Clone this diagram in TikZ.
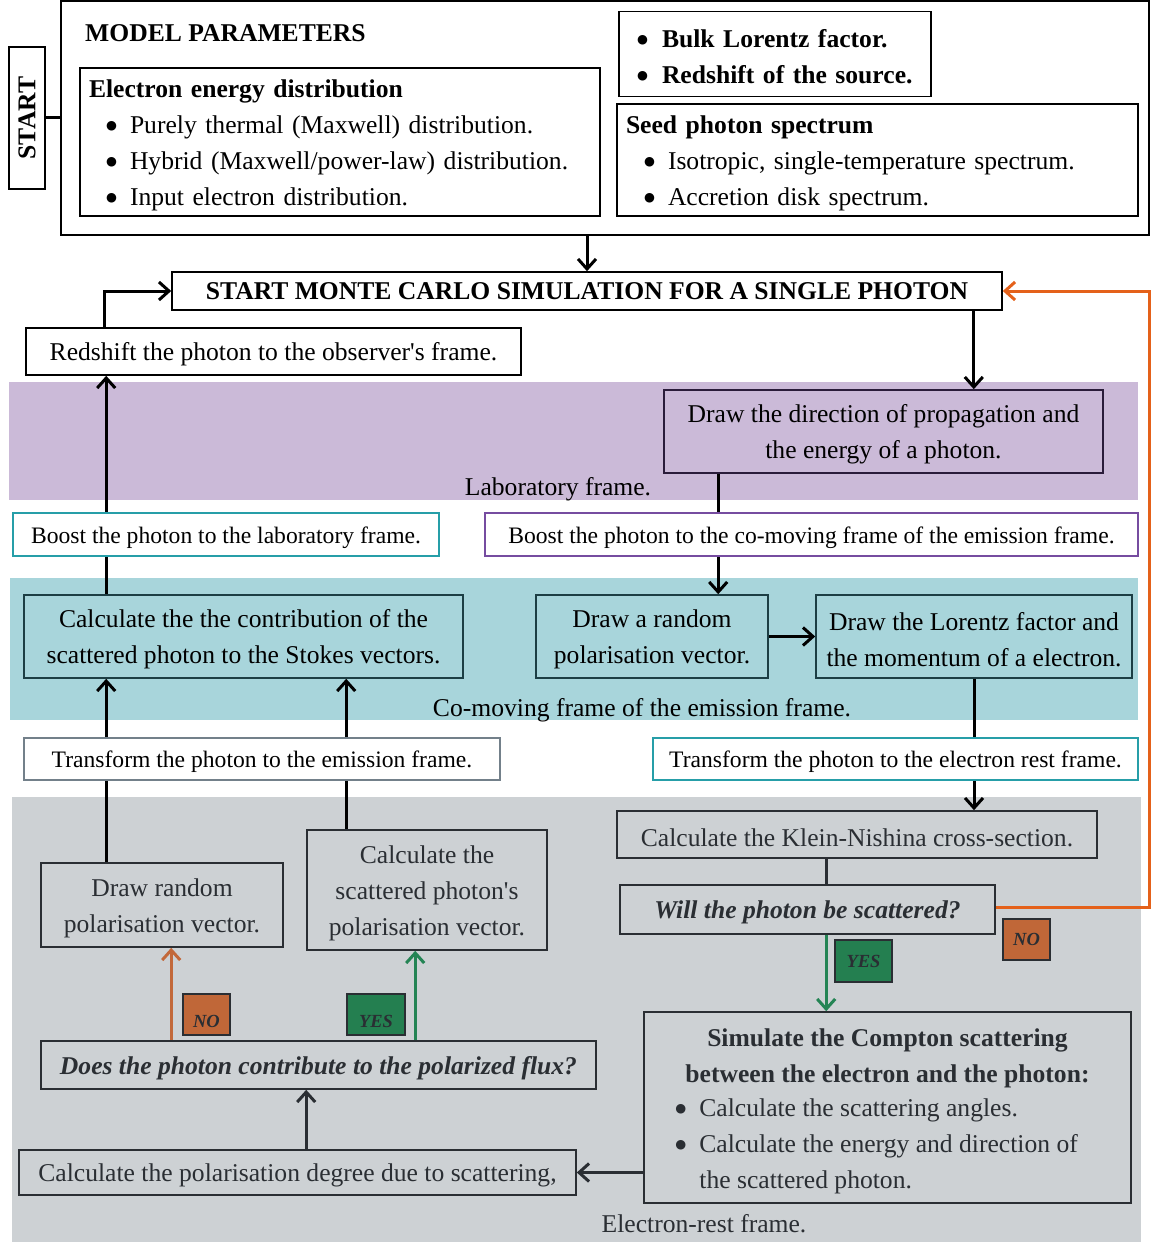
\documentclass[tikz,border=0pt]{standalone}
\usepackage{fontspec}
\setmainfont{Liberation Serif}
\newfontfamily\qf{Liberation Serif}
\newfontfamily\symf{DejaVu Sans}
\usetikzlibrary{arrows.meta,calc}
\pgfdeclarelayer{bg}
\pgfdeclarelayer{lines}
\pgfsetlayers{bg,lines,main}
\definecolor{purpband}{RGB}{203,186,216}
\definecolor{tealband}{RGB}{168,213,219}
\definecolor{grayband}{RGB}{205,209,212}
\definecolor{purpdark}{RGB}{42,28,58}
\definecolor{tealdark}{RGB}{28,62,68}
\definecolor{graydark}{RGB}{42,46,51}
\definecolor{tealline}{RGB}{38,158,168}
\definecolor{purpline}{RGB}{118,76,160}
\definecolor{grayline}{RGB}{115,128,138}
\definecolor{loopor}{RGB}{228,97,26}
\definecolor{noor}{RGB}{194,104,58}
\definecolor{yesgr}{RGB}{36,132,84}
\definecolor{nofill}{RGB}{192,103,56}
\definecolor{yesfill}{RGB}{36,127,80}
\newcommand\fm{\fontsize{25.6}{36}\selectfont}
\newcommand\fsm{\fontsize{23.6}{30}\selectfont}
\newcommand\ftag{\fontsize{18.5}{20}\selectfont\bfseries\itshape}
\newcommand\dn{\rule{0pt}{0.94em}}
\newcommand\bdot{\raisebox{4pt}{\symf\fontsize{12.5}{12.5}\selectfont ●}}
\newcommand\bitem[2]{\hspace*{#1}\makebox[#2][l]{\bdot}}
\newcommand\apos{{\qf'}}
\begin{document}
\begin{tikzpicture}[x=1pt,y=-1pt,
  plainbox/.style={draw=black, line width=1.6pt, fill=white, inner sep=0pt, font=\fm, align=center},
  box/.style={plainbox, execute at begin node=\dn},
  listbox/.style={draw=black, line width=1.6pt, fill=white, inner xsep=9pt, inner ysep=0pt, font=\fm, align=left, execute at begin node=\dn},
  pbox/.style={box, draw=purpdark, fill=purpband},
  tbox/.style={box, draw=tealdark, fill=tealband},
  gbox/.style={box, draw=graydark, fill=grayband, text=graydark},
  qbox/.style={gbox, font=\fm\bfseries\itshape},
  tagbox/.style={draw=graydark, line width=1.6pt, inner sep=0pt, font=\ftag, text=graydark},
  lbl/.style={inner sep=0pt, font=\fm, execute at begin node=\dn},
  conn/.style={line width=3pt, -{Straight Barb[length=10pt,width=18pt]}},
  plain/.style={line width=3pt}
]
\useasboundingbox (0,0) rectangle (1151,1244);

% ---- bands
\begin{pgfonlayer}{bg}
  \fill[purpband] (9,382) rectangle (1138,500);
  \fill[tealband] (10,578) rectangle (1138,720);
  \fill[grayband] (12,797) rectangle (1141,1242);
\end{pgfonlayer}

% ---- model parameters
\node[plainbox, minimum width=1088, minimum height=234] (outer) at (605,118) {};
\node[anchor=west, inner sep=0pt, font=\fm\bfseries] (mp) at (85,33) {MODEL PARAMETERS};
\node[plainbox, rotate=90, minimum width=142, minimum height=36, font=\fm\bfseries] (startb) at (27,118) {START};
\node[listbox, minimum width=520, minimum height=148, text width=502] (elec) at (340,142)
  {\textbf{Electron energy distribution}\\
   \bitem{17pt}{24pt}Purely thermal (Maxwell) distribution.\\
   \bitem{17pt}{24pt}Hybrid (Maxwell/power-law) distribution.\\
   \bitem{17pt}{24pt}Input electron distribution.};
\node[listbox, execute at begin node={}, inner xsep=8pt, minimum width=312, minimum height=85, text width=296, font=\fm\bfseries] (bulk) at (775,54)
  {\bitem{10pt}{25pt}Bulk Lorentz factor.\\
   \bitem{10pt}{25pt}Redshift of the source.};
\node[listbox, minimum width=521, minimum height=112, text width=503] (seed) at (877.5,160)
  {\textbf{Seed photon spectrum}\\
   \bitem{18pt}{24pt}Isotropic, single-temperature spectrum.\\
   \bitem{18pt}{24pt}Accretion disk spectrum.};

% ---- main flow
\node[plainbox, minimum width=830, minimum height=38, font=\fm\bfseries] (mc) at (587,291) {START MONTE CARLO SIMULATION FOR A SINGLE PHOTON};
\node[box, minimum width=495, minimum height=47] (red) at (273.5,351.5) {Redshift the photon to the observer\apos s frame.};
\node[pbox, minimum width=439, minimum height=83] (dd) at (883.5,431.5) {\dn Draw the direction of propagation and\\the energy of a photon.};
\node[lbl] (lab) at (558,486) {Laboratory frame.};
\node[box, draw=tealline, font=\fsm, minimum width=426, minimum height=43] (bl) at (226,534.5) {Boost the photon to the laboratory frame.};
\node[box, draw=purpline, font=\fsm, minimum width=653, minimum height=43] (bc) at (811.5,534.5) {Boost the photon to the co-moving frame of the emission frame.};

\node[tbox, minimum width=439, minimum height=83] (stokes) at (243.5,636.5) {\dn Calculate the the contribution of the\\scattered photon to the Stokes vectors.};
\node[tbox, minimum width=232, minimum height=83] (dr) at (652,636.5) {\dn Draw a random\\polarisation vector.};
\node[tbox, minimum width=316, minimum height=83] (lor) at (974,636.5) {\dn Draw the Lorentz factor and\\the momentum of a electron.};
\node[lbl] (com) at (642,707) {Co-moving frame of the emission frame.};
\node[box, draw=grayline, font=\fsm, minimum width=476, minimum height=42] (te) at (262,759) {Transform the photon to the emission frame.};
\node[box, draw=tealline, font=\fsm, minimum width=485, minimum height=42] (tr) at (895.5,759) {Transform the photon to the electron rest frame.};

\node[gbox, minimum width=480, minimum height=47] (kn) at (857,834.5) {Calculate the Klein-Nishina cross-section.};
\node[qbox, minimum width=375, minimum height=49] (will) at (807.5,909.5) {Will the photon be scattered?};
\node[tagbox, fill=nofill, minimum width=47, minimum height=41] (no1) at (1026.5,939.5) {NO};
\node[tagbox, fill=yesfill, minimum width=57, minimum height=42] (yes1) at (863.5,961) {YES};
\node[gbox, minimum width=487, minimum height=191] (comp) at (887.5,1107.5) {};
\node[lbl, font=\fm\bfseries, align=center, text=graydark] (compt) at ($(comp.center)+(0,-52.5)$)
  {\dn Simulate the Compton scattering\\between the electron and the photon:};
\node[lbl, align=left, anchor=west, text=graydark] (compl) at ($(comp.west)+(32,36)$)
  {\dn\makebox[24pt][l]{\bdot}Calculate the scattering angles.\\
   \makebox[24pt][l]{\bdot}Calculate the energy and direction of\\
   \hspace*{24pt}the scattered photon.};
\node[gbox, minimum width=557, minimum height=45] (pd) at (297.5,1172.5) {Calculate the polarisation degree due to scattering,};
\node[qbox, minimum width=555, minimum height=48] (does) at (318.5,1065) {Does the photon contribute to the polarized flux?};
\node[tagbox, fill=nofill, minimum width=47, minimum height=41] (no2) at (206.5,1014.5) {\raisebox{-13pt}[0pt][0pt]{NO}};
\node[tagbox, fill=yesfill, minimum width=58, minimum height=41] (yes2) at (376,1014.5) {\raisebox{-13pt}[0pt][0pt]{YES}};
\node[gbox, minimum width=242, minimum height=84] (drl) at (162,905) {\dn Draw random\\polarisation vector.};
\node[gbox, minimum width=240, minimum height=120] (cs) at (427,890) {\dn Calculate the\\scattered photon\apos s\\polarisation vector.};
\node[lbl, text=graydark] (er) at (704,1221) {Electron-rest frame.};

% ---- connectors
\begin{pgfonlayer}{lines}
  \draw[plain] (startb.south) -- (startb.south -| outer.west);
  \draw[conn] (mc.north |- outer.south) -- (mc.north);
  \coordinate (c1) at ($(red.north west)+(79,0)$);
  \draw[conn] (c1) |- (mc.west);
  \coordinate (c2) at ($(mc.south east)+(-29,0)$);
  \draw[conn] (c2) -- (c2 |- dd.north);
  \coordinate (c3) at ($(dd.south west)+(55,0)$);
  \draw[conn] (c3) -- (c3 |- dr.north);
  \draw[conn] (dr.east) -- (lor.west);
  \draw[conn] (lor.south) -- (lor.south |- kn.north);
  \coordinate (c4) at ($(kn.south west)+(210,0)$);
  \draw[plain, graydark] (c4) -- (c4 |- will.north);
  \coordinate (c5) at ($(will.south west)+(207,0)$);
  \draw[conn, yesgr] (c5) -- (c5 |- comp.north);
  \coordinate (c6) at ($(will.east)+(154,-2)$);
  \draw[conn, loopor] ($(will.east)+(0,-2)$) -- (c6) |- (mc.east);
  \draw[conn, graydark] (comp.west |- pd.east) -- (pd.east);
  \coordinate (c7) at ($(pd.north west)+(288,0)$);
  \draw[conn, graydark] (c7) -- (c7 |- does.south);
  \coordinate (c8) at ($(does.north west)+(131,0)$);
  \draw[conn, noor] (c8) -- (c8 |- drl.south);
  \coordinate (c9) at ($(does.north west)+(375,0)$);
  \draw[conn, yesgr] (c9) -- (c9 |- cs.south);
  \coordinate (c10) at ($(drl.north west)+(66,0)$);
  \draw[conn] (c10) -- (c10 |- stokes.south);
  \coordinate (c11) at ($(cs.north west)+(40,0)$);
  \draw[conn] (c11) -- (c11 |- stokes.south);
  \coordinate (c12) at ($(stokes.north west)+(83,0)$);
  \draw[conn] (c12) -- (c12 |- red.south);
\end{pgfonlayer}
\end{tikzpicture}
\end{document}
